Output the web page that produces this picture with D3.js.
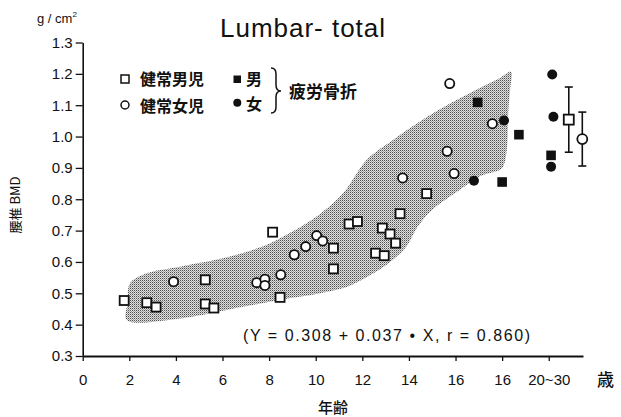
<!DOCTYPE html>
<html>
<head>
<meta charset="utf-8">
<script src="https://cdn.jsdelivr.net/npm/d3@7"></script>
<style>
  html, body { margin: 0; padding: 0; background: #fff; }
  text { font-family: "Liberation Sans", Arial, sans-serif; fill: #111; }
  .jp { font-family: "Noto Sans CJK JP", "Noto Sans CJK SC", sans-serif; }
</style>
</head>
<body>
<svg id="chart" width="621" height="417"></svg>
<script>
// Lumbar spine BMD (g/cm2) against age

// x tick positions and their printed labels
const xTickValues = [0, 2, 4, 6, 8, 10, 12, 14, 16, 18, 20];
const xTickLabels = ["0", "2", "4", "6", "8", "10", "12", "14", "16", "16", "20~30"];
const yTickValues = [0.3, 0.4, 0.5, 0.6, 0.7, 0.8, 0.9, 1.0, 1.1, 1.2, 1.3];

// healthy boys: [age, BMD]
const healthyBoys = [
  [1.78, 0.477], [2.75, 0.470], [3.15, 0.456], [5.26, 0.543], [5.26, 0.466],
  [5.63, 0.453], [8.15, 0.695], [8.47, 0.487], [10.76, 0.644], [10.76, 0.578],
  [11.43, 0.721], [11.79, 0.729], [12.57, 0.628], [12.86, 0.708], [12.94, 0.620],
  [13.19, 0.689], [13.43, 0.660], [13.62, 0.754], [14.76, 0.818]
];
// healthy girls: [age, BMD]
const healthyGirls = [
  [3.9, 0.537], [7.47, 0.534], [7.82, 0.545], [7.82, 0.525], [8.5, 0.559],
  [9.08, 0.623], [9.57, 0.649], [10.04, 0.684], [10.3, 0.667], [13.73, 0.868],
  [15.64, 0.953], [15.94, 0.882], [15.75, 1.169], [17.58, 1.041]
];
// stress fracture, boys: [age position, BMD]
const fractureBoys = [[16.95, 1.109], [18.72, 1.006], [18.0, 0.855], [20.1, 0.940]];
// stress fracture, girls: [age position, BMD]
const fractureGirls = [[18.08, 1.051], [16.79, 0.859], [20.2, 1.063], [20.15, 1.198], [20.1, 0.904]];

// young adult reference: [position, mean, SD]
const adultMale = [20.86, 1.054, 0.104];
const adultFemale = [21.44, 0.992, 0.086];

// outline of the shaded normal range, [age, BMD]
const bandOutline = [
  [1.89, 0.415], [1.93, 0.47], [2.03, 0.532], [2.75, 0.564], [4.18, 0.585],
  [6.32, 0.617], [7.9, 0.655], [8.61, 0.681], [10.04, 0.745], [11.18, 0.820],
  [12.19, 0.926], [13.33, 0.990], [15.05, 1.075], [16.91, 1.150], [17.91, 1.187],
  [18.38, 1.207], [18.34, 1.150], [18.27, 1.086], [18.2, 0.958], [18.05, 0.905],
  [17.91, 0.894], [17.05, 0.873], [16.19, 0.830], [15.03, 0.768], [14.4, 0.715],
  [13.85, 0.645], [13.2, 0.600], [12.55, 0.567], [11.9, 0.540], [11.33, 0.520],
  [10.2, 0.500], [8.47, 0.479], [6.18, 0.447], [4.18, 0.420]
];

const equation = "(Y = 0.308 + 0.037 \u2022 X,  r = 0.860)";

const svg = d3.select("#chart");

const x = d3.scaleLinear().domain([0, 21.47]).range([82.7, 583]);
const y = d3.scaleLinear().domain([0.3, 1.3]).range([356, 42.5]);

// halftone fill for the range band
const defs = svg.append("defs");
const pat = defs.append("pattern")
  .attr("id", "halftone").attr("patternUnits", "userSpaceOnUse")
  .attr("width", 2).attr("height", 2);
pat.append("rect").attr("width", 2).attr("height", 2).attr("fill", "#dedede");
pat.append("rect").attr("x", 0).attr("y", 0).attr("width", 1).attr("height", 1).attr("fill", "#505050");
pat.append("rect").attr("x", 1).attr("y", 1).attr("width", 1).attr("height", 1).attr("fill", "#a0a0a0");

svg.append("path")
  .datum(bandOutline)
  .attr("d", d3.line().x(d => x(d[0])).y(d => y(d[1])).curve(d3.curveCatmullRomClosed.alpha(0.5)))
  .attr("fill", "url(#halftone)")
  .attr("stroke", "none");

// axes
const xAxis = d3.axisBottom(x)
  .tickValues(xTickValues)
  .tickFormat((d, i) => xTickLabels[i])
  .tickSizeInner(5).tickSizeOuter(0).tickPadding(13);
const gx = svg.append("g").attr("transform", `translate(0,${y(0.3)})`).call(xAxis);
gx.select(".domain").attr("stroke", "#111").attr("stroke-width", 2);
gx.selectAll(".tick line").attr("stroke", "#111").attr("stroke-width", 1.3);
gx.selectAll(".tick text").attr("font-size", 15).attr("font-family", "Liberation Sans, Arial, sans-serif").attr("fill", "#111");

const yAxis = d3.axisLeft(y)
  .tickValues(yTickValues)
  .tickFormat(d3.format(".1f"))
  .tickSizeInner(7).tickSizeOuter(0).tickPadding(3);
const gy = svg.append("g").attr("transform", `translate(${x(0)},0)`).call(yAxis);
gy.select(".domain").attr("stroke", "#111").attr("stroke-width", 1.6);
gy.selectAll(".tick line").attr("stroke", "#111").attr("stroke-width", 1.3);
gy.selectAll(".tick text").attr("font-size", 15).attr("font-family", "Liberation Sans, Arial, sans-serif").attr("fill", "#111");

// markers
const sq = 9;
svg.append("g").selectAll("rect").data(healthyBoys).join("rect")
  .attr("x", d => x(d[0]) - sq / 2).attr("y", d => y(d[1]) - sq / 2)
  .attr("width", sq).attr("height", sq)
  .attr("fill", "#fff").attr("stroke", "#111").attr("stroke-width", 1.8);

svg.append("g").selectAll("circle").data(healthyGirls).join("circle")
  .attr("cx", d => x(d[0])).attr("cy", d => y(d[1])).attr("r", 4.6)
  .attr("fill", "#fff").attr("stroke", "#111").attr("stroke-width", 1.8);

svg.append("g").selectAll("rect").data(fractureBoys).join("rect")
  .attr("x", d => x(d[0]) - 4.8).attr("y", d => y(d[1]) - 4.8)
  .attr("width", 9.6).attr("height", 9.6).attr("fill", "#111");

svg.append("g").selectAll("circle").data(fractureGirls).join("circle")
  .attr("cx", d => x(d[0])).attr("cy", d => y(d[1])).attr("r", 5)
  .attr("fill", "#111");

// adult mean ± SD
function errorBar(d, shape) {
  const [px, m, sd] = d;
  const g = svg.append("g").attr("stroke", "#111").attr("stroke-width", 1.6);
  const cx = x(px);
  g.append("line").attr("x1", cx).attr("x2", cx).attr("y1", y(m + sd)).attr("y2", y(m - sd));
  [m + sd, m - sd].forEach(v => g.append("line")
    .attr("x1", cx - 4).attr("x2", cx + 4).attr("y1", y(v)).attr("y2", y(v)));
  if (shape === "square") {
    g.append("rect").attr("x", cx - 5).attr("y", y(m) - 5).attr("width", 10).attr("height", 10)
      .attr("fill", "#fff").attr("stroke-width", 1.8);
  } else {
    g.append("circle").attr("cx", cx).attr("cy", y(m)).attr("r", 5)
      .attr("fill", "#fff").attr("stroke-width", 1.8);
  }
}
errorBar(adultMale, "square");
errorBar(adultFemale, "circle");

// titles and labels
svg.append("text").attr("x", 220).attr("y", 37).attr("font-size", 26)
  .attr("textLength", 165).attr("lengthAdjust", "spacing")
  .text("Lumbar- total");

const unit = svg.append("text").attr("x", 37).attr("y", 23).attr("font-size", 13);
unit.append("tspan").text("g / cm");
unit.append("tspan").attr("font-size", 8).attr("dy", -6).text("2");

svg.append("text").attr("x", 243).attr("y", 341).attr("font-size", 16)
  .attr("textLength", 287).attr("lengthAdjust", "spacing")
  .text(equation);

svg.append("text").attr("class", "jp").attr("x", 597).attr("y", 386).attr("font-size", 17)
  .attr("font-weight", 500).text("歳");

svg.append("text").attr("class", "jp").attr("x", 333).attr("y", 413).attr("font-size", 15)
  .attr("font-weight", 500).attr("text-anchor", "middle").text("年齢");

svg.append("text").attr("class", "jp")
  .attr("transform", "translate(20,205) rotate(-90)")
  .attr("font-size", 13).attr("text-anchor", "middle").text("腰椎 BMD");

// legend
const lg = svg.append("g");
lg.append("rect").attr("x", 121).attr("y", 75).attr("width", 8).attr("height", 8)
  .attr("fill", "#fff").attr("stroke", "#111").attr("stroke-width", 1.5);
lg.append("circle").attr("cx", 125).attr("cy", 105).attr("r", 4)
  .attr("fill", "#fff").attr("stroke", "#111").attr("stroke-width", 1.5);
lg.append("text").attr("class", "jp").attr("x", 140).attr("y", 85).attr("font-size", 16)
  .attr("font-weight", 700).text("健常男児");
lg.append("text").attr("class", "jp").attr("x", 140).attr("y", 112).attr("font-size", 16)
  .attr("font-weight", 700).text("健常女児");
lg.append("rect").attr("x", 233.5).attr("y", 75.5).attr("width", 7.5).attr("height", 7.5).attr("fill", "#111");
lg.append("circle").attr("cx", 237.3).attr("cy", 102.7).attr("r", 4).attr("fill", "#111");
lg.append("text").attr("class", "jp").attr("x", 246).attr("y", 85).attr("font-size", 16)
  .attr("font-weight", 700).text("男");
lg.append("text").attr("class", "jp").attr("x", 246).attr("y", 110).attr("font-size", 16)
  .attr("font-weight", 700).text("女");
lg.append("path")
  .attr("d", "M271,68 Q276,68 276,74 L276,85 Q276,91 281,91 Q276,91 276,97 L276,107 Q276,113 271,113")
  .attr("fill", "none").attr("stroke", "#111").attr("stroke-width", 1.5);
lg.append("text").attr("class", "jp").attr("x", 289).attr("y", 98).attr("font-size", 17)
  .attr("font-weight", 700).text("疲労骨折");
</script>
</body>
</html>
